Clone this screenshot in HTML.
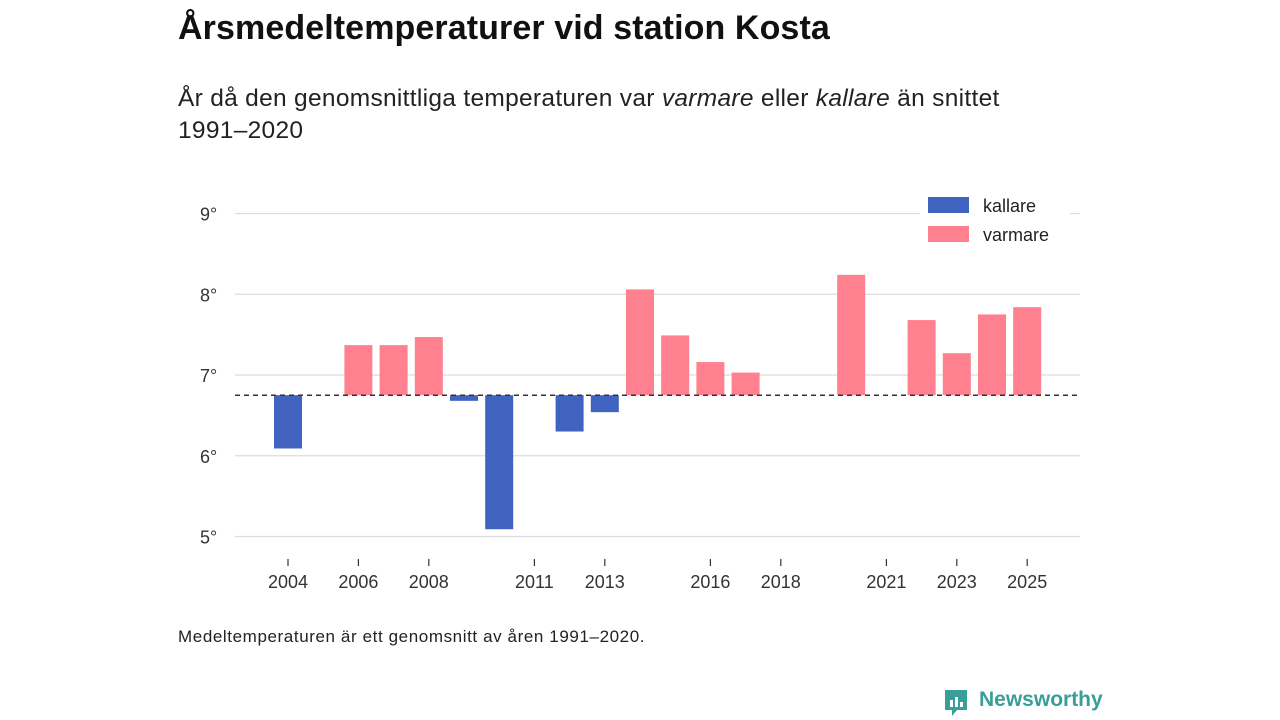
<!DOCTYPE html>
<html><head><meta charset="utf-8">
<style>
body{margin:0;background:#fff;width:1280px;height:720px;overflow:hidden;font-family:"Liberation Sans","DejaVu Sans",sans-serif;color:#111}
h1{position:absolute;left:178px;top:9px;margin:0;font-size:34px;font-weight:bold;letter-spacing:0.1px}
.sub{position:absolute;left:178px;top:83px;font-size:24.5px;line-height:32px;color:#222;width:870px;letter-spacing:0.3px}
.note{position:absolute;left:178px;top:627px;font-size:17px;color:#222;letter-spacing:0.6px}
.logo{position:absolute;left:943px;top:688px;font-size:21px;font-weight:bold;color:#3a9e98}
svg{position:absolute;left:0;top:0}
</style></head><body>
<h1>Årsmedeltemperaturer vid station Kosta</h1>
<div class="sub">År då den genomsnittliga temperaturen var <i>varmare</i> eller <i>kallare</i> än snittet 1991–2020</div>
<svg id="chart" width="1280" height="720"></svg>
<div class="note">Medeltemperaturen är ett genomsnitt av åren 1991–2020.</div>
<div class="logo"><svg width="26" height="30" style="position:absolute;left:0;top:0" viewBox="0 0 26 30"><path d="M2 2h22v20H14l-5 6v-6H2z" fill="#3a9e98"/><rect x="7" y="12" width="3" height="7" fill="#fff"/><rect x="12" y="9" width="3" height="10" fill="#fff"/><rect x="17" y="14" width="3" height="5" fill="#fff"/></svg><span style="margin-left:36px">Newsworthy</span></div>
<script>
const years=[2004,2006,2007,2008,2009,2010,2012,2013,2014,2015,2016,2017,2020,2022,2023,2024,2025];
const temps=[6.09,7.37,7.37,7.47,6.68,5.09,6.30,6.54,8.06,7.49,7.16,7.03,8.24,7.68,7.27,7.75,7.84];
const baseline=6.75;
const yTicks=[5,6,7,8,9];
const xTicks=[2004,2006,2008,2011,2013,2016,2018,2021,2023,2025];
const NS="http://www.w3.org/2000/svg";
const svg=document.getElementById('chart');
const x=yr=>288+(yr-2004)*35.2;
const y=v=>375-(v-7)*80.75;
function mk(t,a){const e=document.createElementNS(NS,t);for(const k in a)e.setAttribute(k,a[k]);svg.appendChild(e);return e;}
yTicks.forEach(v=>{
 const l=mk('line',{x1:235,x2:1080,y1:y(v),y2:y(v),stroke:'#ddd','stroke-width':1.2});
 
 
 const t=mk('text',{x:200,y:y(v)+7,'font-size':18,fill:'#333','font-family':'Liberation Sans, sans-serif'});
 t.textContent=v+'°';
 
 
});
xTicks.forEach(yr=>{
 const l=mk('line',{x1:x(yr),x2:x(yr),y1:559,y2:566,stroke:'#333','stroke-width':1.2});
 
 
 const t=mk('text',{x:x(yr),y:588,'font-size':18,fill:'#333','text-anchor':'middle','font-family':'Liberation Sans, sans-serif'});
 t.textContent=yr;
 
 
});
years.forEach((yr,i)=>{
 const v=temps[i];const top=Math.min(y(v),y(baseline));const h=Math.abs(y(v)-y(baseline));
 const r=mk('rect',{x:x(yr)-14,y:top,width:28,height:h,fill:v>=baseline?'#ff808e':'#4063c0'});
 
 
});
const bl=mk('line',{x1:235,x2:1080,y1:y(baseline),y2:y(baseline),stroke:'#333','stroke-width':1.5,'stroke-dasharray':'5,4'});


const lg=[['kallare','#4063c0',197],['varmare','#ff808e',226]];
lg.forEach(([n,c,yy])=>{
 const bg=mk('rect',{x:920,y:yy-5,width:150,height:28,fill:'#fff'});
 
 
 const r=mk('rect',{x:928,y:yy,width:41,height:16,fill:c});
 
 
 const t=mk('text',{x:983,y:yy+15,'font-size':18,fill:'#222','font-family':'Liberation Sans, sans-serif'});
 t.textContent=n;
 
 
});
</script>
</body></html>
